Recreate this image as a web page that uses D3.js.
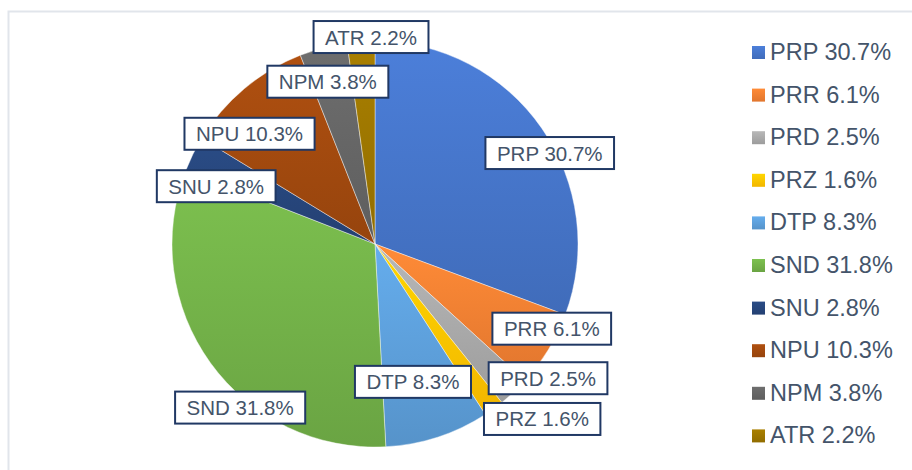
<!DOCTYPE html>
<html lang="en">
<head>
    <meta charset="UTF-8">
    <title>Pie Chart</title>
    <script src="https://d3js.org/d3.v7.min.js"></script>
    <style>
        body { margin: 0; background: #fff; font-family: Arial, "Liberation Sans", sans-serif; }
        .lbl text { font-size: 20.5px; fill: #44546A; text-anchor: middle; }
        .legend text { font-size: 23.5px; fill: #44546A; }
    </style>
</head>
<body>
    <svg width="912" height="470"></svg>

    <script>
        const categories = ["PRP", "PRR", "PRD", "PRZ", "DTP", "SND", "SNU", "NPU", "NPM", "ATR"];
        const values = [30.7, 6.1, 2.5, 1.6, 8.3, 31.8, 2.8, 10.3, 3.8, 2.2];
        const colors = ["#4472C4", "#ED7D31", "#A5A5A5", "#FFC000", "#5B9BD5",
                        "#70AD47", "#264478", "#9E480E", "#636363", "#997300"];
        // label placement: angle (deg, clockwise from top) and distance from centre
        const labelAngle = [62.5, 115.6, 127.8, 136.3, 164.6, 219.5, 290, 311.3, 343.8, 358.9];
        const labelDist = [197, 196, 219, 242, 143, 212, 169, 167, 169, 207];

        const svg = d3.select("svg");
        const cx = 375, cy = 244, radius = 203;

        // chart frame
        svg.append("rect")
            .attr("x", 8.5).attr("y", 11.5)
            .attr("width", 920).attr("height", 480)
            .attr("fill", "none")
            .attr("stroke", "#E1E5EB")
            .attr("stroke-width", 2);

        const data = categories.map((c, i) => ({ name: c, value: values[i], color: colors[i] }));

        const defs = svg.append("defs");
        data.forEach((d, i) => {
            const grad = defs.append("linearGradient")
                .attr("id", "g" + i)
                .attr("x1", 0).attr("y1", 0).attr("x2", 0).attr("y2", 1);
            grad.append("stop").attr("offset", "0%").attr("stop-color", d3.color(d.color).brighter(0.3));
            grad.append("stop").attr("offset", "100%").attr("stop-color", d3.color(d.color).darker(0.15));
        });

        const pie = d3.pie().value(d => d.value).sort(null);
        const arc = d3.arc().innerRadius(0).outerRadius(radius);
        const arcs = pie(data);

        const g = svg.append("g").attr("transform", `translate(${cx},${cy})`);

        g.selectAll("path")
            .data(arcs)
            .enter().append("path")
            .attr("d", arc)
            .attr("fill", (d, i) => `url(#g${i})`)
            .attr("stroke", "#fff")
            .attr("stroke-width", 0.6)
            .attr("stroke-opacity", 0.7);

        // data labels in boxes
        const labels = g.selectAll("g.lbl")
            .data(arcs)
            .enter().append("g")
            .attr("class", "lbl")
            .attr("transform", (d, i) => {
                const p = d3.pointRadial(labelAngle[i] * Math.PI / 180, labelDist[i]);
                return `translate(${p[0]},${p[1]})`;
            });

        labels.append("rect");
        labels.append("text")
            .attr("y", 7.5)
            .text(d => `${d.data.name} ${d.data.value.toFixed(1)}%`);

        labels.each(function() {
            const sel = d3.select(this);
            const w = sel.select("text").node().getComputedTextLength() + 23;
            sel.select("rect")
                .attr("x", -w / 2).attr("y", -16)
                .attr("width", w).attr("height", 32)
                .attr("fill", "#fff")
                .attr("stroke", "#203864")
                .attr("stroke-width", 2);
        });

        // legend
        const legend = svg.append("g").attr("class", "legend")
            .attr("transform", "translate(752,0)");

        const rows = legend.selectAll("g")
            .data(data)
            .enter().append("g")
            .attr("transform", (d, i) => `translate(0,${60 + i * 42.6})`);

        rows.append("rect")
            .attr("y", -14)
            .attr("width", 13).attr("height", 13)
            .attr("fill", (d, i) => `url(#g${i})`);

        rows.append("text")
            .attr("x", 18)
            .text(d => `${d.name} ${d.value.toFixed(1)}%`);
    </script>
</body>
</html>
